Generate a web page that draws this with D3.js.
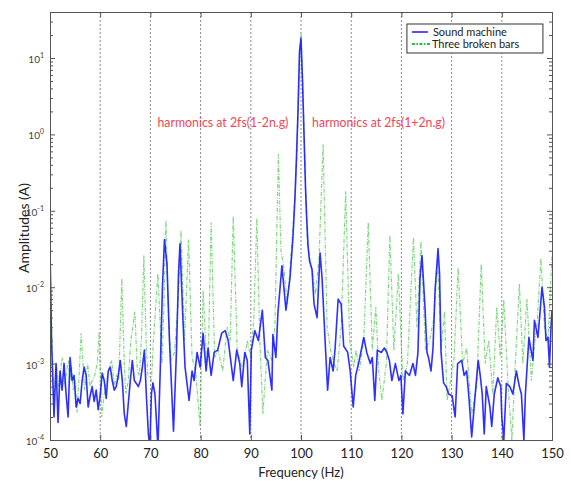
<!DOCTYPE html>
<html>
<head>
    <meta charset="utf-8">
    <title>Spectrum</title>
    <script src="https://d3js.org/d3.v7.min.js"></script>
    <style>
        body { margin: 0; background: #fff; font-family: Lato, 'Open Sans', sans-serif; }
        svg { display: block; }
    </style>
</head>
<body>
<div class="svg-container"></div>
<script>
    // Sound machine (blue)
    const soundFreq = [50.0, 50.3, 50.8, 51.2, 51.6, 52.0, 52.4, 52.8, 53.2, 53.6, 54.0, 54.4, 54.8, 55.2, 55.6, 56.0, 56.4, 56.8, 57.2, 57.6,
        58.0, 58.4, 58.8, 59.2, 59.6, 60.0, 60.4, 60.8, 61.2, 61.6, 62.0, 62.4, 62.8, 63.2, 63.6, 64.0, 64.4, 64.8, 65.2, 65.6,
        66.0, 66.4, 66.8, 67.2, 67.6, 68.0, 68.4, 68.8, 69.2, 69.6, 69.9, 70.2, 70.5, 70.9, 71.5, 72.0, 72.4, 72.8, 73.3, 73.8,
        74.6, 75.2, 75.6, 75.9, 76.4, 76.9, 77.7, 78.3, 78.7, 79.3, 79.9, 80.5, 81.1, 81.5, 82.1, 82.7, 83.4, 84.2, 84.9, 85.5,
        86.0, 86.5, 87.2, 87.8, 88.2, 88.8, 89.3, 89.8, 90.1, 90.8, 91.5, 92.3, 92.9, 93.4, 94.2, 94.4, 95.0, 95.4, 96.2, 97.0,
        97.8, 98.4, 98.8, 99.1, 99.4, 99.7, 100.0, 100.3, 100.6, 100.9, 101.1, 101.4, 101.7,
        102.2, 102.6, 103.2, 103.8, 104.2, 104.8, 105.3, 105.8, 106.4, 106.8,
        107.4, 108.0, 108.5, 109.3, 109.8, 110.4, 110.9, 111.6, 112.5, 113.1, 113.8, 114.2, 114.7, 115.2, 116.0, 116.6, 117.1, 117.6, 118.1, 118.8,
        119.5, 119.9, 120.3, 120.8, 121.6, 122.3, 122.8, 123.3, 123.7, 124.1, 124.7, 125.1, 125.4, 125.9, 126.3, 126.7, 127.3, 127.6, 127.9, 128.4,
        128.9, 129.4, 130.1, 130.7, 131.2, 132.0, 132.5, 133.0, 133.5, 134.0, 134.6, 135.3, 135.7, 136.1, 136.5, 136.9, 137.6, 138.0, 138.5, 139.2,
        139.8, 140.0, 140.4, 140.9, 141.6, 142.2, 142.9, 143.5, 143.9, 144.4, 144.7, 145.4, 145.9, 146.2, 146.5, 147.2, 147.7, 148.0, 148.5, 148.8,
        149.2, 149.5, 149.8, 150.0]
    const soundAmp = [3.4e-2, 2e-3, 2e-4, 1e-3, 1.7e-4, 8e-4, 4.5e-4, 1e-3, 4e-4, 2e-4, 1.2e-3, 6e-4, 7e-4, 2.7e-4, 3.5e-4, 3e-4, 6e-4, 9e-4, 7e-4, 2.7e-4,
        3.8e-4, 5e-4, 3.2e-4, 4.5e-4, 2.5e-4, 3.8e-4, 7.5e-4, 6e-4, 3.5e-4, 8e-4, 9e-4, 6e-4, 4.5e-4, 5e-4, 7e-4, 1.1e-3, 6e-4, 2.2e-4, 1.5e-4, 3e-4,
        6e-4, 1.1e-3, 6e-4, 5.5e-4, 5e-4, 6e-4, 9e-4, 1.5e-3, 3.8e-4, 1.2e-4, 8e-5, 4e-4, 5.6e-4, 4e-4, 8e-5, 1e-3, 1e-2, 4.2e-2, 2e-2, 2e-3,
        1.3e-4, 1.5e-3, 1.5e-2, 3.7e-2, 5e-3, 9e-4, 3.3e-4, 8e-4, 6e-4, 1.4e-3, 9e-4, 2.5e-3, 8e-4, 1.6e-3, 7e-4, 1.4e-3, 1.5e-3, 2.5e-3, 2.7e-3, 2e-3,
        1.1e-3, 6e-4, 1.5e-3, 1e-3, 5e-4, 1.4e-3, 1.1e-3, 1.2e-4, 1.5e-3, 2.7e-3, 2e-3, 5e-3, 1.2e-3, 1.1e-3, 4.5e-4, 2.4e-3, 1.2e-3, 4.6e-3, 1.9e-2, 5e-3,
        1.3e-2, 4.5e-2, 0.15, 0.5, 2, 12, 18, 5, 1.0, 0.2, 9e-2, 3.5e-2, 2.2e-2,
        1.7e-2, 6e-3, 4e-3, 2.8e-2, 1.3e-2, 2e-3, 4.5e-4, 1.2e-3, 8e-4, 1.6e-3,
        7e-3, 6e-3, 1.7e-3, 1.4e-3, 8e-4, 2.7e-4, 7e-4, 1.1e-3, 2.2e-3, 1.4e-3, 1e-3, 1.2e-3, 3.3e-4, 1.5e-3, 1.4e-3, 1.6e-3, 1.4e-3, 1.1e-3, 6e-4, 1e-3,
        6e-4, 7e-4, 2.2e-4, 8e-4, 7e-4, 1e-3, 7e-4, 1.4e-3, 1.3e-2, 2.6e-2, 5.5e-3, 1.4e-3, 1.2e-3, 8e-4, 1.6e-3, 9e-3, 3.2e-2, 1.5e-2, 1.4e-3, 5.6e-4,
        5e-4, 4e-4, 3.8e-4, 2e-4, 1e-3, 1.1e-3, 7e-4, 8e-4, 3.3e-4, 1.1e-4, 3.3e-4, 1.1e-3, 7e-4, 4e-4, 1.2e-4, 5e-4, 2.8e-4, 1.5e-4, 4e-4, 6.5e-4,
        5e-4, 2e-4, 1e-4, 5.5e-4, 5e-4, 4e-4, 8e-4, 5e-4, 4e-4, 1e-4, 4e-4, 2.2e-3, 1.4e-3, 1.1e-3, 3.7e-3, 2.2e-3, 5.5e-3, 1e-2, 5.5e-3, 2e-3,
        2.2e-3, 9e-4, 3e-3, 5e-3]

    // Three broken bars (green)
    const barsFreq = [50.0, 50.4, 50.8, 51.3, 51.7, 52.0, 52.4, 52.7, 53.0, 53.3, 53.7, 54.0, 54.3, 54.6, 55.0, 55.4, 55.8, 56.2, 56.9, 57.5,
        58.0, 58.4, 58.9, 59.4, 59.8, 60.3, 60.8, 61.3, 61.8, 62.3, 62.8, 63.3, 63.7, 64.3, 64.8, 65.1, 65.6, 66.1, 66.9, 67.4,
        67.8, 68.2, 68.7, 69.2, 69.5, 70.2, 70.6, 71.5, 72.3, 72.7, 73.1, 73.6, 74.1, 74.8, 75.5, 76.1, 76.8, 77.6, 78.3, 79.0,
        79.9, 80.5, 81.2, 81.6, 82.1, 82.8, 83.5, 84.4, 85.3, 85.9, 86.5, 87.3, 88.2, 88.8, 89.3, 90.0, 90.6, 91.2, 91.8, 92.4,
        93.3, 94.2, 94.8, 95.5, 96.0, 96.5, 97.3, 98.3, 98.9, 99.2, 99.5, 99.8, 100.0, 100.3, 100.6, 100.9, 101.3,
        102.3, 102.9, 103.6, 104.4, 105.2, 105.9,
        106.6, 107.2, 108.0, 108.9, 109.7, 110.5, 111.0, 111.6, 112.5, 113.4, 114.2, 114.9, 115.5, 116.1, 117.0, 117.7, 118.5, 119.4, 120.3, 121.2,
        122.4, 123.1, 123.9, 124.8, 125.6, 126.5, 127.2, 127.9, 128.6, 129.1, 129.8, 130.5, 131.3, 132.2, 133.0, 134.0, 135.0, 135.9, 136.7, 137.4,
        138.2, 139.0, 139.7, 140.4, 141.2, 142.0, 142.7, 143.5, 144.2, 145.0, 145.9, 146.6, 147.0, 147.8, 148.5, 149.2, 150.0]
    const barsAmp = [2.5e-2, 2e-3, 3.3e-4, 1e-3, 5e-4, 7e-4, 1.2e-3, 1e-3, 5e-4, 8e-4, 1.1e-3, 6e-4, 9e-4, 4.5e-4, 6e-4, 2.3e-4, 7e-4, 2.5e-3, 4.5e-4, 1e-3,
        5e-4, 6e-4, 7e-4, 1e-3, 2.6e-3, 2e-4, 4e-4, 6e-4, 9e-4, 1.1e-3, 5e-4, 7e-4, 6e-4, 1.3e-2, 1e-3, 4e-4, 6e-4, 2e-3, 4.8e-3, 8e-4,
        7e-4, 2e-3, 2.6e-2, 1.5e-3, 7e-4, 6e-4, 2e-3, 1.5e-2, 1e-3, 6e-3, 7.5e-2, 4e-3, 1.1e-3, 1.4e-3, 6e-3, 5.5e-2, 2e-3, 4.2e-2, 1.2e-3, 8e-4,
        1.5e-4, 9e-3, 1e-3, 2e-3, 7e-2, 1.2e-3, 1.5e-3, 8e-4, 3e-3, 2e-3, 8.5e-2, 1.5e-3, 9e-4, 1.2e-3, 2e-3, 1.2e-3, 4e-3, 8e-2, 2e-3, 2.2e-4,
        1.5e-3, 1.1e-3, 3e-3, 0.55, 3e-2, 2e-2, 6e-3, 5e-2, 0.2, 0.6, 3, 15, 21, 6, 1.2, 0.2, 3.5e-2,
        1.5e-2, 8e-3, 2.5e-2, 0.74, 3e-3, 1.5e-3,
        1e-3, 8e-4, 3e-3, 0.18, 2e-3, 9e-4, 1.5e-3, 8e-4, 2e-3, 7e-2, 1.5e-3, 5.5e-3, 8e-4, 3.3e-4, 1e-3, 4.8e-2, 1.5e-3, 1.5e-2, 6e-4, 1e-3,
        4.5e-2, 3e-3, 4e-2, 1.5e-3, 2e-3, 4e-3, 2.2e-2, 1.5e-3, 4.8e-3, 3.3e-4, 6e-4, 1.2e-3, 1.8e-2, 1e-3, 1.6e-3, 2.2e-4, 5e-4, 2e-2, 1e-3, 2e-3,
        4e-4, 5.4e-3, 1.2e-3, 6.8e-3, 6e-4, 1e-4, 1e-3, 1.1e-2, 1e-3, 7e-3, 6e-4, 2e-3, 3e-3, 2.4e-2, 3e-3, 2e-3, 2.6e-2]

    const xTicks = [50, 60, 70, 80, 90, 100, 110, 120, 130, 140, 150]
    const gridTicks = [60, 70, 80, 90, 100, 110, 120, 130, 140]
    const yExponents = [-4, -3, -2, -1, 0, 1]
    const seriesNames = ['Sound machine', 'Three broken bars']
    const notes = ['harmonics at 2fs(1-2n.g)', 'harmonics at 2fs(1+2n.g)']

    const w = 571, h = 481
    const margin = { top: 12, right: 19, bottom: 41, left: 50 }
    const iw = w - margin.left - margin.right
    const ih = h - margin.top - margin.bottom

    const svg = d3.select('.svg-container').append('svg')
        .attr('width', w).attr('height', h)

    const g = svg.append('g').attr('transform', `translate(${margin.left},${margin.top})`)

    const x = d3.scaleLinear().domain([50, 150]).range([0, iw])
    const y = d3.scaleLog().domain([1e-4, 40]).range([ih, 0])

    g.append('clipPath').attr('id', 'clip')
        .append('rect').attr('width', iw).attr('height', ih)

    // dotted vertical grid
    g.selectAll('.grid').data(gridTicks).enter().append('line')
        .attr('class', 'grid')
        .attr('x1', d => x(d)).attr('x2', d => x(d))
        .attr('y1', 0).attr('y2', ih)
        .attr('stroke', '#8a8a8a').attr('stroke-width', 1)
        .attr('stroke-dasharray', '2,2')

    const line = d3.line().x(d => x(d[0])).y(d => y(Math.max(d[1], 5e-5)))

    const plot = g.append('g').attr('clip-path', 'url(#clip)')

    plot.append('path')
        .datum(d3.zip(barsFreq, barsAmp))
        .attr('d', line)
        .attr('fill', 'none')
        .attr('stroke', '#4cc84c')
        .attr('stroke-opacity', 0.7)
        .attr('stroke-width', 1.2)
        .attr('stroke-dasharray', '4,1.5,1,1.5')

    plot.append('path')
        .datum(d3.zip(soundFreq, soundAmp))
        .attr('d', line)
        .attr('fill', 'none')
        .attr('stroke', '#1818ff')
        .attr('stroke-opacity', 0.9)
        .attr('stroke-width', 1.6)
        .attr('stroke-linejoin', 'round')

    // minor log ticks
    const minor = []
    yExponents.forEach(e => {
        for (let k = 2; k <= 9; k++) {
            const v = k * Math.pow(10, e)
            if (v <= 40) minor.push(v)
        }
    })

    const axisColor = '#555'

    const axLeft = g.append('g')
        .call(d3.axisLeft(y).tickValues(yExponents.map(e => Math.pow(10, e))).tickSize(-5).tickFormat(''))
    const axLeftMinor = g.append('g')
        .call(d3.axisLeft(y).tickValues(minor).tickSize(-3).tickFormat(''))
    const axRight = g.append('g').attr('transform', `translate(${iw},0)`)
        .call(d3.axisRight(y).tickValues(yExponents.map(e => Math.pow(10, e))).tickSize(-5).tickFormat(''))
    const axRightMinor = g.append('g').attr('transform', `translate(${iw},0)`)
        .call(d3.axisRight(y).tickValues(minor).tickSize(-3).tickFormat(''))
    const axBottom = g.append('g').attr('transform', `translate(0,${ih})`)
        .call(d3.axisBottom(x).tickValues(xTicks).tickSize(-5).tickPadding(9).tickFormat(d3.format('d')))
    const axTop = g.append('g')
        .call(d3.axisTop(x).tickValues(xTicks).tickSize(-5).tickFormat(''))

    ;[axLeft, axLeftMinor, axRight, axRightMinor, axBottom, axTop].forEach(a => {
        a.select('.domain').attr('stroke', axisColor)
        a.selectAll('.tick line').attr('stroke', axisColor)
    })
    axBottom.selectAll('.tick text')
        .attr('font-family', "Lato, 'Open Sans', sans-serif")
        .attr('font-size', 13).attr('fill', '#222')

    // y tick labels 10^n
    const yl = g.append('g')
    yExponents.forEach(e => {
        const t = yl.append('text')
            .attr('x', -6).attr('y', y(Math.pow(10, e)) + 5)
            .attr('text-anchor', 'end')
            .attr('font-family', "Lato, 'Open Sans', sans-serif")
            .attr('font-size', 10).attr('fill', '#444')
        t.append('tspan').text('10')
        t.append('tspan').attr('dy', -5).attr('font-size', 7).text(e)
    })

    svg.append('text')
        .attr('x', margin.left + iw / 2).attr('y', 477)
        .attr('text-anchor', 'middle')
        .attr('font-family', "Lato, 'Open Sans', sans-serif")
        .attr('font-size', 13).attr('fill', '#222')
        .text('Frequency (Hz)')

    svg.append('text')
        .attr('transform', 'translate(29,228) rotate(-90)')
        .attr('text-anchor', 'middle')
        .attr('font-family', "Lato, 'Open Sans', sans-serif")
        .attr('font-size', 14).attr('fill', '#222')
        .text('Amplitudes (A)')

    // annotations
    g.append('text')
        .attr('x', x(71.4)).attr('y', 115)
        .attr('font-family', "Lato, 'Open Sans', sans-serif")
        .attr('font-size', 13).attr('fill', '#f04656')
        .attr('textLength', 131).attr('lengthAdjust', 'spacingAndGlyphs')
        .text(notes[0])
    g.append('text')
        .attr('x', x(102.2)).attr('y', 115)
        .attr('font-family', "Lato, 'Open Sans', sans-serif")
        .attr('font-size', 13).attr('fill', '#f04656')
        .attr('textLength', 133).attr('lengthAdjust', 'spacingAndGlyphs')
        .text(notes[1])

    // legend
    const legend = g.append('g').attr('transform', `translate(${x(121.1)},12)`)
    legend.append('rect')
        .attr('width', 136).attr('height', 29)
        .attr('fill', '#fff').attr('stroke', '#333').attr('stroke-width', 1)
    const styles = [
        { color: '#1818ff', dash: null, width: 1.5 },
        { color: '#22bb44', dash: '3,1.5,1.5,1.5', width: 2 }
    ]
    seriesNames.forEach((name, i) => {
        const yy = 8 + i * 12
        legend.append('line')
            .attr('x1', 5).attr('x2', i === 0 ? 21 : 24).attr('y1', yy).attr('y2', yy)
            .attr('stroke', styles[i].color).attr('stroke-width', styles[i].width)
            .attr('stroke-dasharray', styles[i].dash)
        legend.append('text')
            .attr('x', i === 0 ? 26 : 25).attr('y', yy + 4)
            .attr('font-family', "Lato, 'Open Sans', sans-serif")
            .attr('font-size', 11).attr('fill', '#222')
            .text(name)
    })
</script>
</body>
</html>
